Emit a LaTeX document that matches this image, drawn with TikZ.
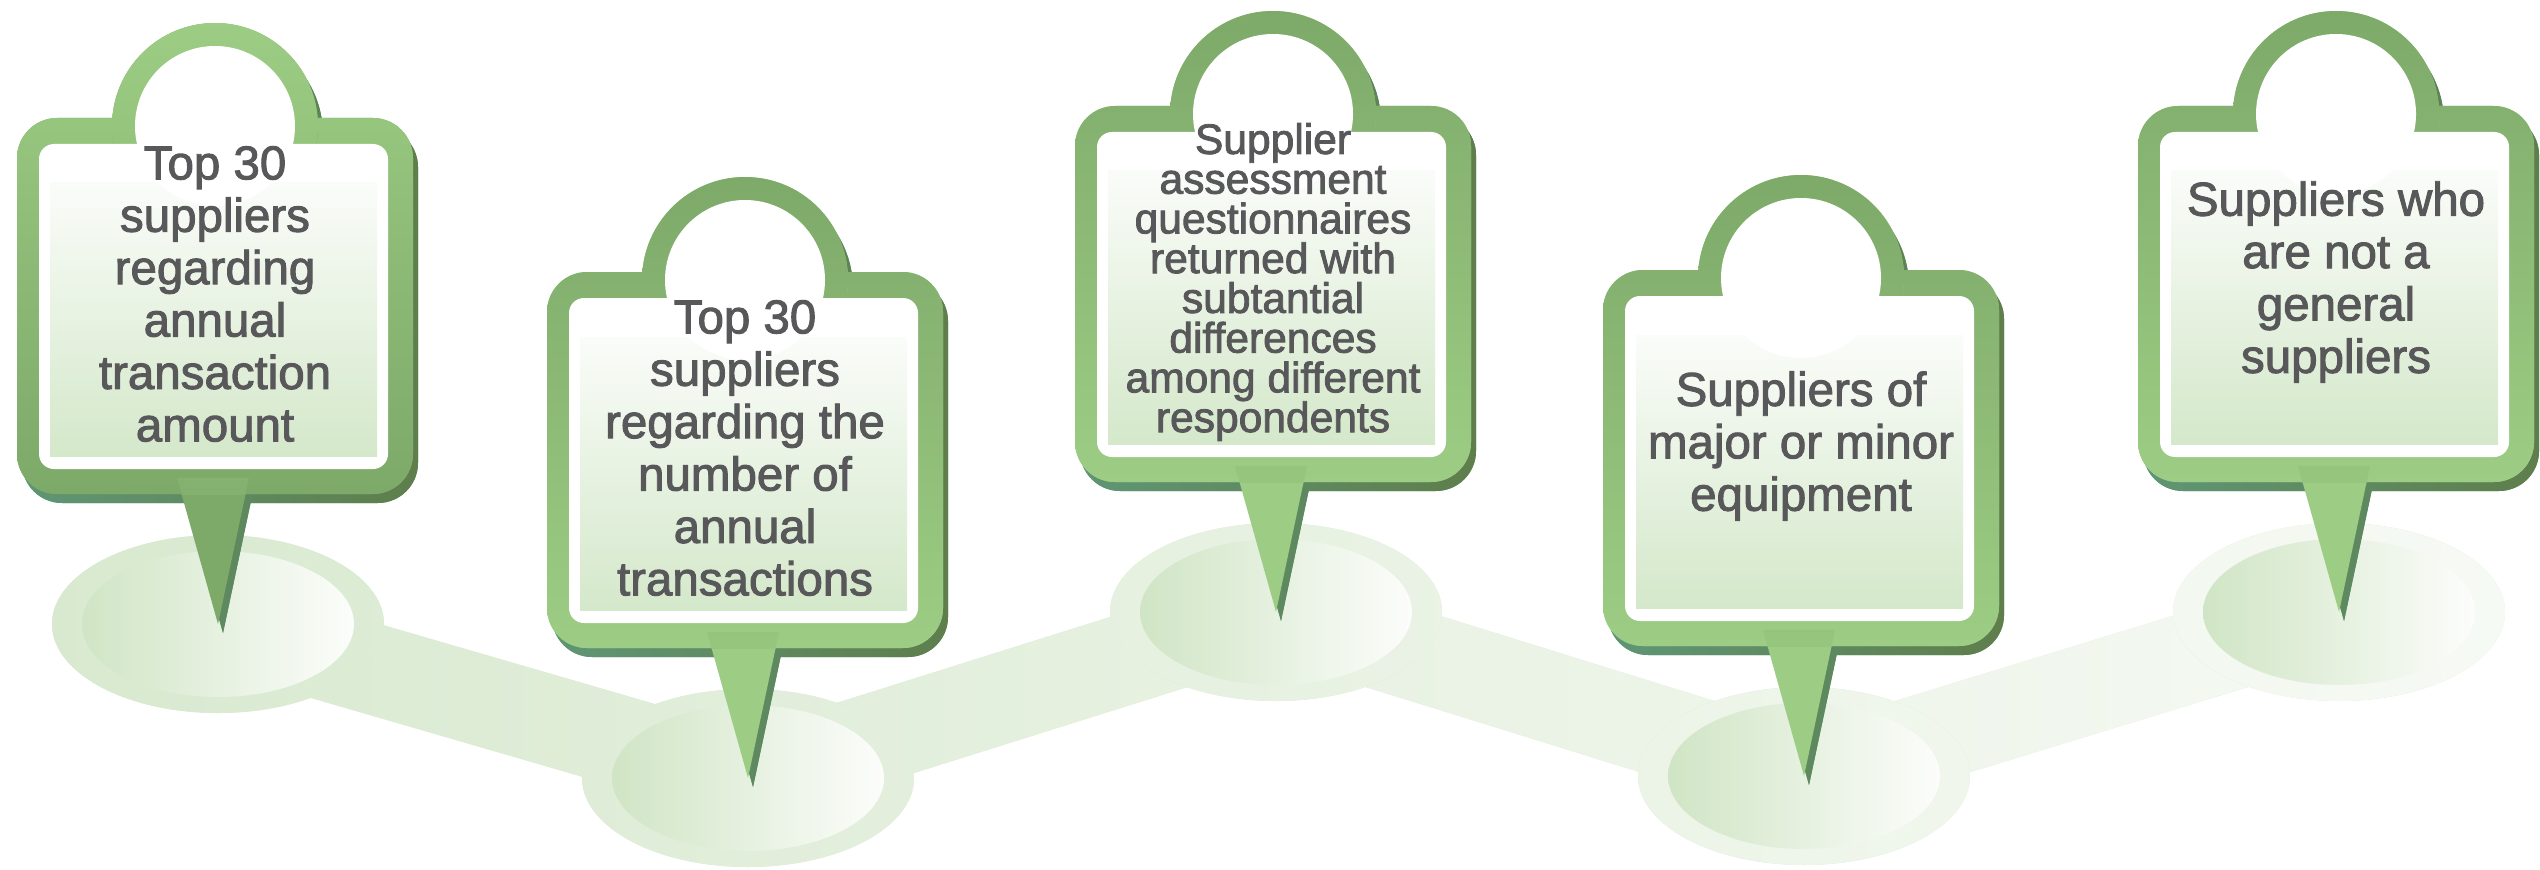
\documentclass[tikz,border=0pt]{standalone}
\usepackage{fontspec}
\setmainfont{Liberation Sans}
\newfontfamily\pinfont{Liberation Sans}[FakeBold=2]
\usetikzlibrary{calc}

\definecolor{pindark}{HTML}{7DA969}
\definecolor{pinlight}{HTML}{9DCD84}
\definecolor{shadowleft}{HTML}{5F9676}
\definecolor{shadowright}{HTML}{5E7D4A}
\definecolor{paneltop}{HTML}{FAFCF9}
\definecolor{panelbottom}{HTML}{D4E8CA}
\definecolor{trailleft}{HTML}{D8E9CF}
\definecolor{trailright}{HTML}{F7FAF5}
\definecolor{spotleft}{HTML}{D0E5C5}
\definecolor{spotright}{HTML}{FCFDFB}
\definecolor{textgray}{HTML}{58585A}
\colorlet{pintop}{pindark}
\colorlet{pinbottom}{pinlight}

\begin{document}
\begin{tikzpicture}
  [
    x = 0.01cm, y = -0.01cm,  % one unit = one pixel, y downwards
    trail/.style = {fill = trailleft,
      path picture = {\shade[left color = trailleft, right color = trailright] (0,0) rectangle (2540,870);}},
    spot/.style = {left color = spotleft, right color = spotright},
    pinshadow/.style = {fill = shadowleft,
      path picture = {\shade[left color = shadowleft, right color = shadowright] (-210,-110) rectangle (215,520);}},
    pinbody/.style = {fill = pinbottom,
      path picture = {\shade[top color = pintop, bottom color = pinbottom] (-210,-100) rectangle (210,376);}},
    lighttop/.code = {\colorlet{pintop}{pinlight}\colorlet{pinbottom}{pindark}},
    pintext/.style = {text = textgray, align = center, font = \pinfont\fontsize{13.5pt}{14.9pt}\selectfont},
    pinsmall/.style = {pintext, font = \pinfont\fontsize{12.1pt}{11.3pt}\selectfont},
    signpost/.pic = {
      % drop shadow
      \begin{scope}[shift = {(5,9)}]
        \path[pinshadow, rounded corners = 4mm] (-198,0) rectangle (198,376);
        \path[pinshadow] (0,8) circle [radius = 103];
        \path[pinshadow] (-38,360) -- (34,360) -- (3,506) -- cycle;
      \end{scope}
      % green frame
      \path[pinbody, rounded corners = 4mm] (-198,0) rectangle (198,376);
      \path[pinbody] (0,8) circle [radius = 103];
      \path[pinbody] (-38,360) -- (34,360) -- (3,506) -- cycle;
      % window
      \fill[white, rounded corners = 1.5mm] (-176,26) rectangle (173,351);
      \shade[top color = paneltop, bottom color = panelbottom] (-165,65) rectangle (162,338);
      \fill[white] (0,8) circle [radius = 80];
    }
  ]
  \useasboundingbox (0,0) rectangle (2540,870);

  % spots where the pins stand
  \coordinate (E1) at (218,624);
  \coordinate (E2) at (748,778);
  \coordinate (E3) at (1276,612);
  \coordinate (E4) at (1804,776);
  \coordinate (E5) at (2339,612);

  \path[trail] ($(E1)!0.45cm!90:(E2)$) -- ($(E1)!0.45cm!-90:(E2)$) -- ($(E2)!0.45cm!90:(E1)$) -- ($(E2)!0.45cm!-90:(E1)$) -- cycle;
  \path[trail] ($(E2)!0.45cm!90:(E3)$) -- ($(E2)!0.45cm!-90:(E3)$) -- ($(E3)!0.45cm!90:(E2)$) -- ($(E3)!0.45cm!-90:(E2)$) -- cycle;
  \path[trail] ($(E3)!0.45cm!90:(E4)$) -- ($(E3)!0.45cm!-90:(E4)$) -- ($(E4)!0.45cm!90:(E3)$) -- ($(E4)!0.45cm!-90:(E3)$) -- cycle;
  \path[trail] ($(E4)!0.45cm!90:(E5)$) -- ($(E4)!0.45cm!-90:(E5)$) -- ($(E5)!0.45cm!90:(E4)$) -- ($(E5)!0.45cm!-90:(E4)$) -- cycle;

  \path[trail] (E1) ellipse [x radius = 166, y radius = 89];
  \path[trail] (E2) ellipse [x radius = 166, y radius = 89];
  \path[trail] (E3) ellipse [x radius = 166, y radius = 89];
  \path[trail] (E4) ellipse [x radius = 166, y radius = 89];
  \path[trail] (E5) ellipse [x radius = 166, y radius = 89];

  \shade[spot] (E1) ellipse [x radius = 136, y radius = 73];
  \shade[spot] (E2) ellipse [x radius = 136, y radius = 73];
  \shade[spot] (E3) ellipse [x radius = 136, y radius = 73];
  \shade[spot] (E4) ellipse [x radius = 136, y radius = 73];
  \shade[spot] (E5) ellipse [x radius = 136, y radius = 73];

  % the pins
  \pic[lighttop] at (215,118) {signpost};
  \pic at (745,272) {signpost};
  \pic at (1273,106) {signpost};
  \pic at (1801,270) {signpost};
  \pic at (2336,106) {signpost};

  \node[pintext] (Amount) at (215,294) {Top 30\\suppliers\\regarding\\annual\\transaction\\amount};
  \node[pintext] (Number) at (745,448) {Top 30\\suppliers\\regarding the\\number of\\annual\\transactions};
  \node[pinsmall] (Survey) at (1273,282) {Supplier\\assessment\\questionnaires\\returned with\\subtantial\\differences\\among different\\respondents};
  \node[pintext] (Equipment) at (1801,446) {Suppliers of\\major or minor\\equipment};
  \node[pintext] (Special) at (2336,282) {Suppliers who\\are not a\\general\\suppliers};
\end{tikzpicture}
\end{document}
